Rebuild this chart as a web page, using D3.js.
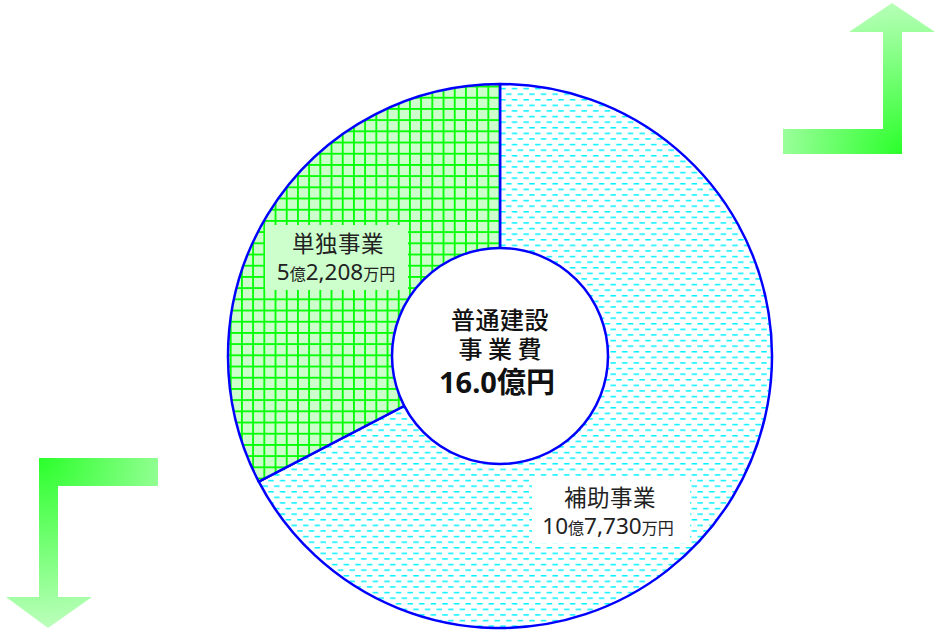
<!DOCTYPE html>
<html lang="ja">
<head>
<meta charset="utf-8">
<script src="https://cdn.jsdelivr.net/npm/d3@7"></script>
<style>
  html, body { margin: 0; padding: 0; background: #fff; }
  svg { display: block; font-family: "Noto Sans CJK JP", "Noto Sans", sans-serif; }
</style>
</head>
<body>
<svg id="chart" width="935" height="632"></svg>
<script>
// Construction spending breakdown (amounts in 万円)
const categories = ["補助事業", "単独事業"];
const values = [107730, 52208];
const centerTitle = ["普通建設", "事 業 費"];
const unitOku = "億";
const unitMan = "万円";
const unitTotal = "億円";

// Layout
const W = 935, H = 632;
const cx = 500, cy = 356, rOuter = 272, rInner = 108;
const labelLayout = [
  { x: 610, y: 506, box: [532, 477, 158, 66], boxFill: "#ffffff" },
  { x: 338, y: 252, box: [265, 225, 143, 65], boxFill: "#ccffcc" }
];
const digitFont = "'Noto Sans', 'DejaVu Sans', sans-serif";

const svg = d3.select("#chart");
const defs = svg.append("defs");

// Hatch patterns
const grid = defs.append("pattern")
  .attr("id", "gridFill").attr("patternUnits", "userSpaceOnUse")
  .attr("width", 11.2).attr("height", 11.2)
  .attr("x", 10.7 - 0.9).attr("y", 10.5 - 0.9);
grid.append("rect").attr("width", 11.2).attr("height", 11.2).attr("fill", "#ccffcc");
grid.append("rect").attr("x", 0).attr("y", 0).attr("width", 1.8).attr("height", 11.2).attr("fill", "#00ff00");
grid.append("rect").attr("x", 0).attr("y", 0).attr("width", 11.2).attr("height", 1.8).attr("fill", "#00ff00");

const dash = defs.append("pattern")
  .attr("id", "dashFill").attr("patternUnits", "userSpaceOnUse")
  .attr("width", 11.6).attr("height", 11.2).attr("x", 0).attr("y", 471);
dash.append("rect").attr("width", 11.6).attr("height", 11.2).attr("fill", "#ffffff");
dash.append("rect").attr("x", 0.3).attr("y", 0).attr("width", 5.4).attr("height", 1.5).attr("fill", "#00f2ff");
dash.append("rect").attr("x", 6.1).attr("y", 5.6).attr("width", 5.4).attr("height", 1.5).attr("fill", "#00f2ff");

const fills = ["url(#dashFill)", "url(#gridFill)"];

// Arrow gradients
function radial(id, x, y, r, inner, outer) {
  const g = defs.append("radialGradient").attr("id", id)
    .attr("gradientUnits", "userSpaceOnUse")
    .attr("cx", x).attr("cy", y).attr("r", r);
  g.append("stop").attr("offset", 0).attr("stop-color", inner);
  g.append("stop").attr("offset", 1).attr("stop-color", outer);
}
radial("gradUp", 902, 154, 165, "#2aff2a", "#c4ffc4");
radial("gradDown", 39, 458, 180, "#2aff2a", "#c4ffc4");

// Bent arrows
const upArrow = [[783,129],[883,129],[883,32],[849,32],[892,3],[935,32],[902,32],[902,154],[783,154]];
const downArrow = [[39,458],[158,458],[158,486],[58,486],[58,597],[92,597],[48,628],[6,597],[39,597]];
const line = d3.line();
svg.append("path").attr("d", line(upArrow) + "Z").attr("fill", "url(#gradUp)");
svg.append("path").attr("d", line(downArrow) + "Z").attr("fill", "url(#gradDown)");

// Pie
const pie = d3.pie().sort(null).value(d => d);
const arcs = pie(values);
const arc = d3.arc().innerRadius(0).outerRadius(rOuter);

const g = svg.append("g").attr("transform", `translate(${cx},${cy})`);
g.selectAll("path.slice").data(arcs).join("path")
  .attr("class", "slice")
  .attr("d", arc)
  .attr("fill", (d, i) => fills[i])
  .attr("stroke", "#0000ff")
  .attr("stroke-width", 2.5)
  .attr("stroke-linejoin", "round");

// Label boxes and text
const fmt = d3.format(",");
const labels = svg.append("g");
arcs.forEach((d, i) => {
  const L = labelLayout[i];
  labels.append("rect")
    .attr("x", L.box[0]).attr("y", L.box[1])
    .attr("width", L.box[2]).attr("height", L.box[3])
    .attr("fill", L.boxFill);
  labels.append("text")
    .attr("x", L.x).attr("y", L.y)
    .attr("text-anchor", "middle")
    .attr("font-size", 22.5).attr("fill", "#222")
    .attr("letter-spacing", 0.5)
    .text(categories[i]);
  const v = d.data;
  const oku = Math.floor(v / 10000);
  const man = v % 10000;
  const t = labels.append("text")
    .attr("x", L.x - 2).attr("y", L.y + 28)
    .attr("text-anchor", "middle").attr("fill", "#222");
  t.append("tspan").attr("font-size", 22.5).attr("font-family", digitFont).text(oku);
  t.append("tspan").attr("font-size", 16).text(unitOku);
  t.append("tspan").attr("font-size", 22.5).attr("font-family", digitFont).text(fmt(man));
  t.append("tspan").attr("font-size", 16).text(unitMan);
});

// Centre hole with total
g.append("circle").attr("r", rInner)
  .attr("fill", "#fff").attr("stroke", "#0000ff").attr("stroke-width", 2.5);

const total = d3.sum(values) / 10000;
const ct = svg.append("g").attr("text-anchor", "middle").attr("fill", "#111");
ct.append("text").attr("x", cx).attr("y", 329)
  .attr("font-size", 24).attr("font-weight", 500).attr("letter-spacing", 0.5)
  .text(centerTitle[0]);
ct.append("text").attr("x", cx).attr("y", 358)
  .attr("font-size", 24).attr("font-weight", 500).text(centerTitle[1]);
const tt = ct.append("text").attr("x", cx - 3).attr("y", 393)
  .attr("font-size", 29).attr("font-weight", 700);
tt.append("tspan").attr("font-family", digitFont).text(total.toFixed(1));
tt.append("tspan").text(unitTotal);
</script>
</body>
</html>
